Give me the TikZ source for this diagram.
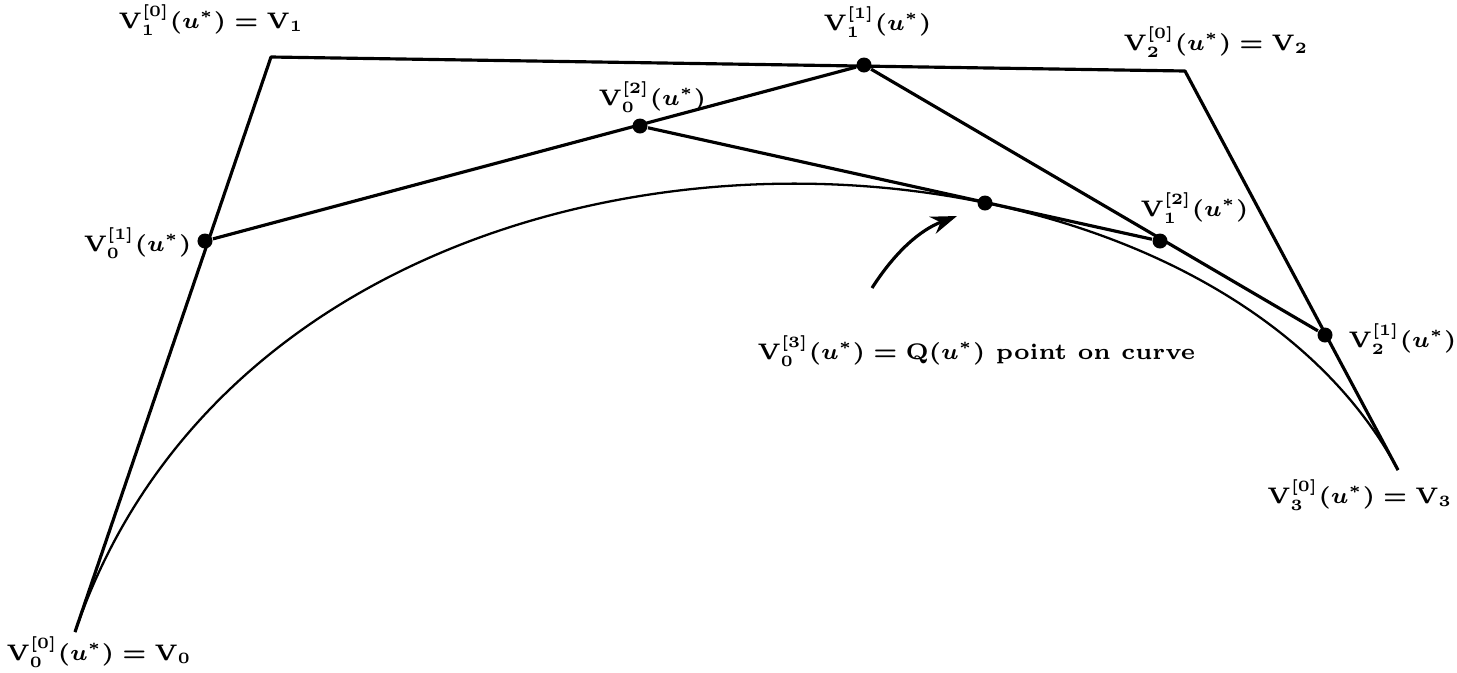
\documentclass[tikz,border=0pt]{standalone}
\usepackage{fix-cm}
\usepackage{amsmath,amssymb}
\usepackage{tikz}
\usetikzlibrary{arrows.meta,positioning,calc}
\tikzset{
  dot/.style={circle,fill,inner sep=0pt,minimum size=1.5mm},
  poly/.style={line width=0.9pt,line join=round},
  crv/.style={line width=0.65pt},
  lbl/.style={font=\fontsize{6.4}{8}\selectfont\bfseries\boldmath,inner sep=0pt},
}

\begin{document}
\begin{tikzpicture}[x=0.01cm,y=-0.01cm,>={Stealth[length=2.6mm,width=1.8mm]}]
\useasboundingbox (0,0) rectangle (1457,672);
\coordinate (V0) at (75,632); \coordinate (V1) at (271,57);
\coordinate (V2) at (1185,71); \coordinate (V3) at (1398,470);
\foreach \nm/\xx/\yy in {V01/205/241,V11/864/65,V21/1325/335,V02/640/126,V12/1160/241,V03/985/203}
  \node[dot] (\nm) at (\xx,\yy) {};
\draw[poly] (V0) -- (V1) -- (V2) -- (V3);
\draw[poly] (V01) -- (V11) -- (V21);
\draw[poly] (V02) -- (V12);
\draw[crv] (V0) .. controls (V1) and (V2) .. (V3);
\coordinate (qtail) at (872,288); \coordinate (qhead) at (957,216);
\draw[->,line width=0.9pt] (qtail) .. controls (895,252) and (920,230) .. (qhead);
\node[lbl,anchor=west] (l0) at (6,652) {$\mathbf V_0^{[0]}(u^*) = \mathbf V_0$};
\node[lbl,anchor=west] (l1) at (118,20) {$\mathbf V_1^{[0]}(u^*) = \mathbf V_1$};
\node[lbl,anchor=west] (l2) at (1123,42) {$\mathbf V_2^{[0]}(u^*) = \mathbf V_2$};
\node[lbl,anchor=east] (l3) at (1453,495) {$\mathbf V_3^{[0]}(u^*) = \mathbf V_3$};
\node[lbl,anchor=east] (l01) at (192,243) {$\mathbf V_0^{[1]}(u^*)$};
\node[lbl,anchor=west] (l11) at (823,22) {$\mathbf V_1^{[1]}(u^*)$};
\node[lbl,anchor=west] (l21) at (1348,339) {$\mathbf V_2^{[1]}(u^*)$};
\node[lbl,anchor=west] (l02) at (598,97) {$\mathbf V_0^{[2]}(u^*)$};
\node[lbl,anchor=west] (l12) at (1140,208) {$\mathbf V_1^{[2]}(u^*)$};
\node[lbl,anchor=west] (l03) at (757,351) {$\mathbf V_0^{[3]}(u^*) = \mathbf Q(u^*)$ point on curve};
\end{tikzpicture}
\end{document}
